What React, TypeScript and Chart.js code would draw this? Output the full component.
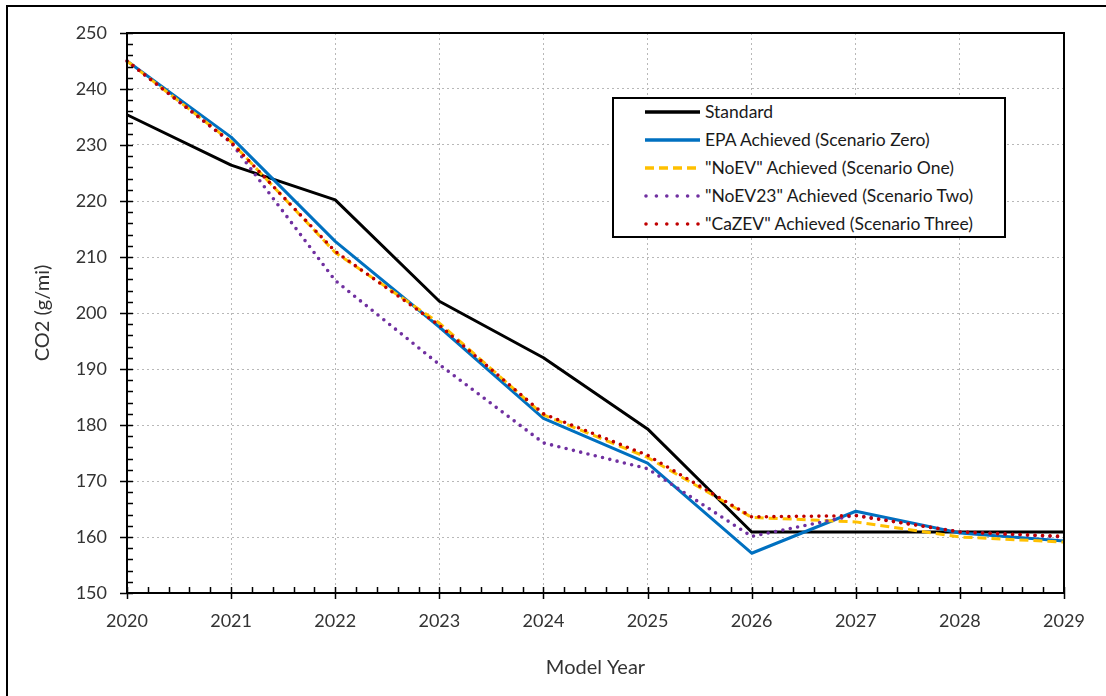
import React, { useEffect, useRef } from "react";
import { Chart, registerables } from "chart.js";

Chart.register(...registerables);

const years = ["2020", "2021", "2022", "2023", "2024", "2025", "2026", "2027", "2028", "2029"];
const standard = [235.4, 226.4, 220.2, 202.1, 192.0, 179.3, 160.9, 160.9, 160.9, 160.9];
const epaAchieved = [245.0, 231.4, 212.8, 197.5, 181.2, 173.2, 157.1, 164.6, 160.7, 159.3];
const noEvAchieved = [245.0, 230.6, 210.8, 198.2, 181.8, 174.2, 163.5, 162.7, 160.0, 159.1];
const noEv23Achieved = [245.0, 230.4, 205.8, 190.8, 176.8, 172.2, 160.1, 163.9, 160.9, 160.0];
const caZevAchieved = [245.0, 230.5, 211.0, 197.8, 182.0, 174.6, 163.6, 163.8, 160.9, 160.1];

const seriesLabels = [
  "Standard",
  "EPA Achieved (Scenario Zero)",
  "\"NoEV\" Achieved (Scenario One)",
  "\"NoEV23\" Achieved (Scenario Two)",
  "\"CaZEV\" Achieved (Scenario Three)",
];
const seriesColors = ["#000000", "#0070C0", "#FFC000", "#7030A0", "#C00000"];
const seriesDash: number[][] = [[], [], [9, 5], [0, 7.5], [0, 7.5]];
const seriesCap = ["butt", "butt", "butt", "round", "round"];
const seriesWidth = [3, 3, 3, 3.6, 3.6];

const FONT = "Lato, 'Open Sans', sans-serif";
const TEXT = "#333333";

const axisPlugin = {
  id: "axisFrame",
  afterDraw(chart: any) {
    const { ctx, chartArea } = chart;
    const { left, right, top, bottom } = chartArea;
    const xs = chart.scales.x;
    const ys = chart.scales.y;
    ctx.save();
    ctx.setLineDash([]);
    ctx.strokeStyle = "#000";
    ctx.lineWidth = 2;
    ctx.strokeRect(left, top, right - left, bottom - top);
    ctx.lineWidth = 1.5;
    ctx.beginPath();
    for (let v = 150; v <= 250; v += 2) {
      const y = Math.round(ys.getPixelForValue(v)) + 0.5;
      if (v % 10 === 0) {
        ctx.moveTo(left - 7, y);
        ctx.lineTo(left + 6, y);
      } else {
        ctx.moveTo(left, y);
        ctx.lineTo(left + 6, y);
      }
    }
    for (let i = 0; i < years.length; i++) {
      const x0 = xs.getPixelForValue(i);
      const xm = Math.round(x0) + 0.5;
      ctx.moveTo(xm, bottom - 6);
      ctx.lineTo(xm, bottom + 6);
      if (i < years.length - 1) {
        const x1 = xs.getPixelForValue(i + 1);
        for (let k = 1; k < 5; k++) {
          const xx = Math.round(x0 + ((x1 - x0) * k) / 5) + 0.5;
          ctx.moveTo(xx, bottom - 6);
          ctx.lineTo(xx, bottom);
        }
      }
    }
    ctx.stroke();
    ctx.restore();
  },
};

export default function App() {
  const canvasRef = useRef<HTMLCanvasElement | null>(null);

  useEffect(() => {
    const canvas = canvasRef.current;
    if (!canvas) return;
    const dataSeries = [standard, epaAchieved, noEvAchieved, noEv23Achieved, caZevAchieved];
    const chart = new Chart(canvas, {
      type: "line",
      data: {
        labels: years,
        datasets: dataSeries.map((d, i) => ({
          label: seriesLabels[i],
          data: d,
          borderColor: seriesColors[i],
          backgroundColor: seriesColors[i],
          borderWidth: seriesWidth[i],
          borderDash: seriesDash[i],
          borderCapStyle: seriesCap[i] as any,
          borderJoinStyle: "round" as any,
          pointRadius: 0,
          tension: 0,
          fill: false,
          order: 5 - i,
        })),
      },
      options: {
        responsive: false,
        animation: false,
        devicePixelRatio: 1,
        layout: { padding: { top: 33, right: 42, left: 0, bottom: 0 } },
        plugins: {
          legend: { display: false },
          tooltip: { enabled: false },
        },
        scales: {
          x: {
            type: "category",
            offset: false,
            grid: {
              color: "#b8b8b8",
              lineWidth: 1,
              drawTicks: false,
            },
            border: { display: false, dash: [2, 3] },
            ticks: {
              color: TEXT,
              font: { family: FONT, size: 18 },
              padding: 17,
              maxRotation: 0,
              autoSkip: false,
            },
            title: {
              display: true,
              text: "Model Year",
              color: TEXT,
              font: { family: FONT, size: 20 },
              padding: { top: 0, bottom: 16 },
            },
            afterFit: (scale: any) => {
              scale.height = 103;
            },
          },
          y: {
            min: 150,
            max: 250,
            grid: {
              color: "#b8b8b8",
              lineWidth: 1,
              drawTicks: false,
            },
            border: { display: false, dash: [2, 3] },
            ticks: {
              stepSize: 10,
              color: TEXT,
              font: { family: FONT, size: 18 },
              padding: 20,
            },
            title: {
              display: true,
              text: "CO2 (g/mi)",
              color: TEXT,
              font: { family: FONT, size: 20 },
              padding: { top: 31, bottom: 0 },
            },
            afterFit: (scale: any) => {
              scale.width = 127;
            },
          },
        },
      },
      plugins: [axisPlugin],
    });
    return () => chart.destroy();
  }, []);

  const rowYs = [112, 140, 168, 196, 224];

  return (
    <div
      style={{
        position: "fixed",
        left: 0,
        top: 0,
        width: 1106,
        height: 696,
        background: "#fff",
        overflow: "hidden",
      }}
    >
      <canvas ref={canvasRef} width={1106} height={696} style={{ position: "absolute", left: 0, top: 0 }} />
      <div
        style={{
          position: "absolute",
          left: 6,
          top: 5,
          width: 1200,
          height: 800,
          border: "2px solid #000",
          pointerEvents: "none",
        }}
      />
      <div
        style={{
          position: "absolute",
          left: 612,
          top: 97,
          width: 394,
          height: 141,
          boxSizing: "border-box",
          border: "2px solid #000",
          background: "#fff",
        }}
      />
      {seriesLabels.map((lab, i) => (
        <React.Fragment key={lab}>
          <svg
            width={58}
            height={10}
            style={{ position: "absolute", left: 644, top: rowYs[i] - 5 }}
          >
            <line
              x1={i >= 3 ? 2 : 1}
              y1={5}
              x2={i >= 3 ? 54 : 56}
              y2={5}
              stroke={seriesColors[i]}
              strokeWidth={i >= 3 ? 3.6 : 3.5}
              strokeDasharray={seriesDash[i].length ? seriesDash[i].map((d) => (i >= 3 && d === 7.5 ? 10.4 : d)).join(" ") : undefined}
              strokeLinecap={i >= 3 ? "round" : "butt"}
            />
          </svg>
          <span
            style={{
              position: "absolute",
              left: 705,
              top: rowYs[i] - 12,
              height: 24,
              lineHeight: "24px",
              fontFamily: FONT,
              fontSize: 17.5,
              color: "#1a1a1a",
              whiteSpace: "nowrap",
            }}
          >
            {lab}
          </span>
        </React.Fragment>
      ))}
    </div>
  );
}
